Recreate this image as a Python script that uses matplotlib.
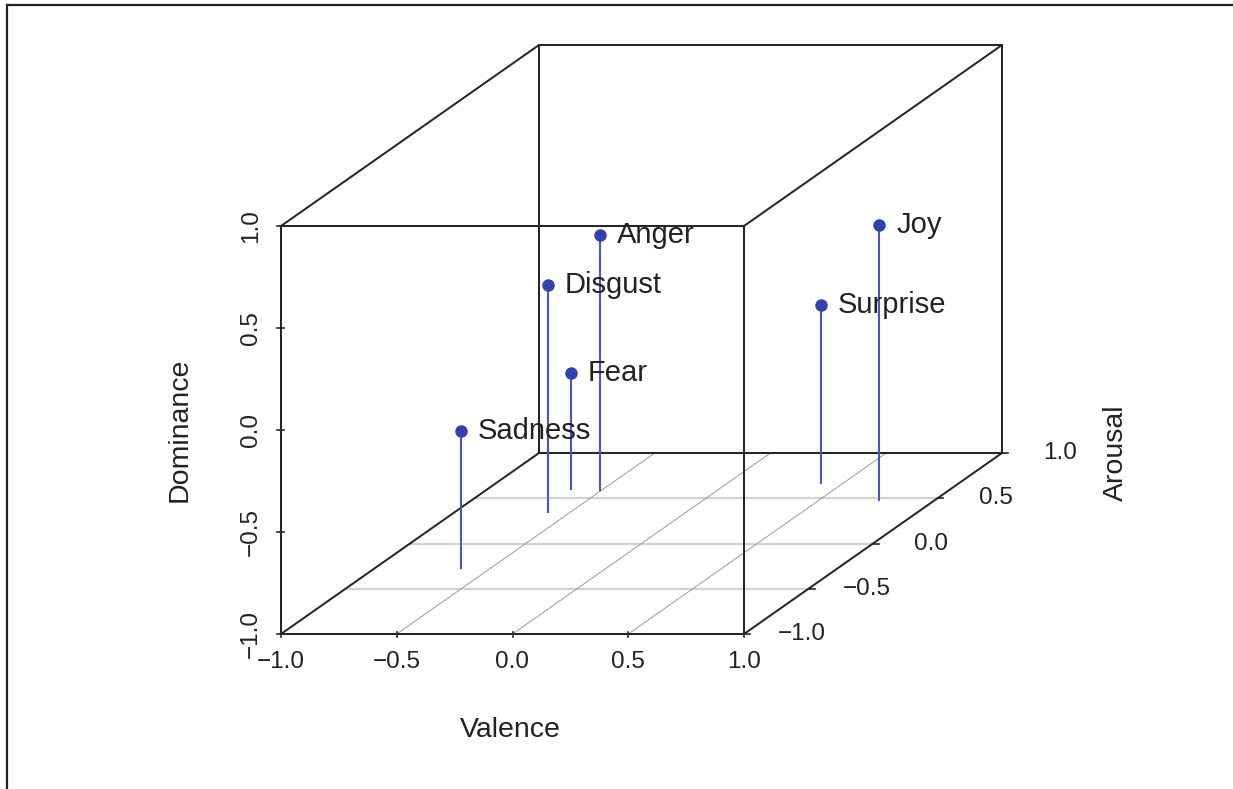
import matplotlib
matplotlib.use("Agg")
import matplotlib.pyplot as plt
from matplotlib.lines import Line2D

plt.rcParams['font.family'] = ['Liberation Sans', 'DejaVu Sans']

# ---- data (Russell & Mehrabian VAD values) ----
emotions = ["Anger", "Disgust", "Fear", "Joy", "Sadness", "Surprise"]
valence = [-0.51, -0.60, -0.64, 0.76, -0.63, 0.40]
arousal = [0.59, 0.35, 0.60, 0.48, -0.27, 0.67]
dominance = [0.25, 0.11, -0.43, 0.35, -0.33, -0.13]

ticks = [-1.0, -0.5, 0.0, 0.5, 1.0]
tick_labels = ["\u22121.0", "\u22120.5", "0.0", "0.5", "1.0"]

# ---- layout (pixel geometry of the oblique projection) ----
W, H, DPI = 1233, 789, 100
PX_V = 231.5        # px per valence unit
PX_D = 204.0        # px per dominance unit
DX_A = 129.0        # horizontal px per arousal unit
DY_A = 90.5         # vertical px per arousal unit
X0, Y0 = 281.0, 634.0  # pixel of (v=-1, a=-1, d=-1), y from top
KX = DX_A / PX_V
KY = DY_A / PX_D
TXT = "#222222"
LINE = "#262626"


def proj(v, a, d):
    return v + (a + 1) * KX, d + (a + 1) * KY


def pt(px):  # pixels -> points
    return px * 72.0 / DPI


fig = plt.figure(figsize=(W / DPI, H / DPI), dpi=DPI)
ax = fig.add_axes([0, 0, 1, 1])
ax.set_xlim(-1 - X0 / PX_V, -1 + (W - X0) / PX_V)
ax.set_ylim(-1 - (H - Y0) / PX_D, -1 + Y0 / PX_D)
ax.axis("off")

# outer frame (top and left only)
fig.add_artist(Line2D([6.5 / W, 1], [1 - 4.5 / H, 1 - 4.5 / H], transform=fig.transFigure,
                      color="#222222", lw=1.6))
fig.add_artist(Line2D([6.5 / W, 6.5 / W], [0, 1 - 4.5 / H], transform=fig.transFigure,
                      color="#222222", lw=1.6))

# floor grid
for a in ticks[1:-1]:
    x1, y1 = proj(-1, a, -1)
    x2, y2 = proj(1, a, -1)
    ax.plot([x1, x2], [y1, y2], color="#d2d2d2", lw=1.6, zorder=1)
for v in ticks[1:-1]:
    x1, y1 = proj(v, -1, -1)
    x2, y2 = proj(v, 1, -1)
    ax.plot([x1, x2], [y1, y2], color="#9a9a9a", lw=0.7, zorder=1)

# box edges
corners = {}
for v in (-1, 1):
    for a in (-1, 1):
        for d in (-1, 1):
            corners[(v, a, d)] = proj(v, a, d)
edges = [
    ((-1, -1, -1), (1, -1, -1)), ((1, -1, -1), (1, -1, 1)), ((1, -1, 1), (-1, -1, 1)),
    ((-1, -1, 1), (-1, -1, -1)),
    ((-1, 1, -1), (1, 1, -1)), ((1, 1, -1), (1, 1, 1)), ((1, 1, 1), (-1, 1, 1)),
    ((-1, 1, 1), (-1, 1, -1)),
    ((-1, -1, -1), (-1, 1, -1)), ((1, -1, -1), (1, 1, -1)),
    ((1, -1, 1), (1, 1, 1)), ((-1, -1, 1), (-1, 1, 1)),
]
for p, q in edges:
    (x1, y1), (x2, y2) = corners[p], corners[q]
    ax.plot([x1, x2], [y1, y2], color=LINE, lw=1.45, zorder=2, solid_capstyle="round")

TFS = 17.5
# valence ticks / labels
for t, lab in zip(ticks, tick_labels):
    x, y = proj(t, -1, -1)
    ax.plot([x, x], [y - 3 / PX_D, y + 2 / PX_D], color=LINE, lw=1.2, zorder=2)
    ax.annotate(lab, (x, y), xytext=(0, pt(-28)), textcoords="offset points",
                ha="center", va="center", fontsize=TFS, color=TXT)
# dominance ticks / labels
for t, lab in zip(ticks, tick_labels):
    x, y = proj(-1, -1, t)
    ax.plot([x - 4 / PX_V, x + 3 / PX_V], [y, y], color=LINE, lw=1.2, zorder=2)
    ax.annotate(lab, (x, y), xytext=(pt(-30), 0), textcoords="offset points",
                ha="center", va="center", fontsize=TFS, color=TXT, rotation=90)
# arousal ticks / labels
for t, lab in zip(ticks, tick_labels):
    x, y = proj(1, t, -1)
    ax.plot([x, x + 6 / PX_V], [y, y], color=LINE, lw=1.2, zorder=2)
    ax.annotate(lab, (x, y), xytext=(pt(58), 0), textcoords="offset points",
                ha="center", va="center", fontsize=TFS, color=TXT)

# axis titles
LFS = 20.5
ax.annotate("Valence", proj(0, -1, -1), xytext=(pt(-2), pt(-96)), textcoords="offset points",
            ha="center", va="center", fontsize=LFS, color=TXT)
ax.annotate("Dominance", proj(-1, -1, 0), xytext=(pt(-101), 0), textcoords="offset points",
            ha="center", va="center", fontsize=LFS, color=TXT, rotation=90)
ax.annotate("Arousal", proj(1, 1, -1), xytext=(pt(114), 0), textcoords="offset points",
            ha="center", va="center", fontsize=LFS, color=TXT, rotation=90)

# stems and points
for name, v, a, d in zip(emotions, valence, arousal, dominance):
    xb, yb = proj(v, a, -1)
    xt, yt = proj(v, a, d)
    ax.plot([xb, xt], [yb, yt], color="#4a55c4", lw=1.5, zorder=3)
    ax.plot([xt], [yt], "o", color="#3341b0", markersize=9, zorder=4, markeredgewidth=0)
    ax.annotate(name, (xt, yt), xytext=(pt(17), 0), textcoords="offset points",
                ha="left", va="center", fontsize=21, color=TXT, zorder=5)

fig.savefig("out.png", dpi=DPI)
